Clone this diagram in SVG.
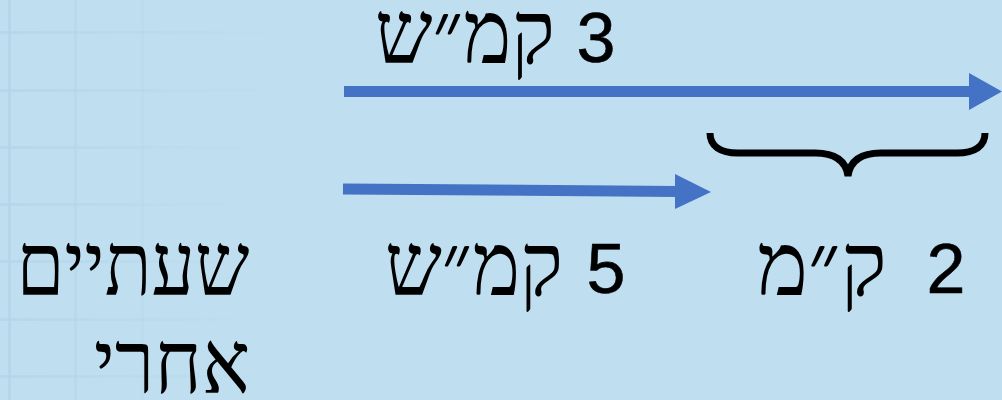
<svg xmlns="http://www.w3.org/2000/svg" width="1002" height="400" viewBox="0 0 1002 400">
  <defs>
    <style>
      .heb { font-family: "Liberation Serif", "DejaVu Serif", serif; font-size: 88px; fill: #000; direction: rtl; text-anchor: middle; }
      .num { font-family: "Liberation Sans", "DejaVu Sans", sans-serif; font-size: 70px; fill: #000; stroke: #000; stroke-width: 0.6; text-anchor: middle; }
      .arrow { stroke: #4472C4; stroke-width: 11; fill: none; }
      .head { fill: #4472C4; }
    </style>
    <linearGradient id="fadeH" x1="0" y1="0" x2="1" y2="0">
      <stop offset="0" stop-color="#A9CCE2" stop-opacity="0.7"/>
      <stop offset="1" stop-color="#A9CCE2" stop-opacity="0"/>
    </linearGradient>
  </defs>
  <rect x="0" y="0" width="1002" height="400" fill="#BFDFF1"/>
  <g id="grid" opacity="0.55">
    <rect x="0" y="31" width="290" height="3" fill="url(#fadeH)"/>
    <rect x="0" y="89" width="290" height="3" fill="url(#fadeH)"/>
    <rect x="0" y="146" width="270" height="3" fill="url(#fadeH)"/>
    <rect x="0" y="203" width="250" height="3" fill="url(#fadeH)"/>
    <rect x="0" y="260" width="250" height="3" fill="url(#fadeH)"/>
    <rect x="0" y="318" width="260" height="3" fill="url(#fadeH)"/>
    <rect x="0" y="375" width="260" height="3" fill="url(#fadeH)"/>
    <rect x="8" y="0" width="3" height="400" fill="#A9CCE2" opacity="0.7"/>
    <rect x="74" y="0" width="3" height="400" fill="#A9CCE2" opacity="0.5"/>
    <rect x="141" y="0" width="3" height="400" fill="#A9CCE2" opacity="0.3"/>
  </g>
  <g id="connectors">
    <g id="arrow-3kmh">
      <line class="arrow" x1="344" y1="91.5" x2="972" y2="91.5"/>
      <polygon class="head" points="969,73 1002,91.5 969,110"/>
    </g>
    <g id="arrow-5kmh">
      <line class="arrow" x1="343" y1="189" x2="678" y2="191.5"/>
      <polygon class="head" points="675,174 711,192 675,209"/>
    </g>
  </g>
  <g id="brace">
    <path d="M710,133 C710,146 720,153 738,153 L815,153 C835,153 846,161 848,176 C850,161 861,153 881,153 L957,153 C975,153 985,146 985,133" fill="none" stroke="#000" stroke-width="7"/>
  </g>
  <g id="label-3kmh">
    <text class="heb" x="465" y="63" textLength="180" lengthAdjust="spacingAndGlyphs">קמ״ש</text>
    <text class="num" x="596" y="62">3</text>
  </g>
  <g id="label-5kmh">
    <text class="heb" x="474" y="295" textLength="178" lengthAdjust="spacingAndGlyphs">קמ״ש</text>
    <text class="num" x="606" y="293">5</text>
  </g>
  <g id="label-2km">
    <text class="heb" x="822" y="295" textLength="130" lengthAdjust="spacingAndGlyphs">ק״מ</text>
    <text class="num" x="946" y="293">2</text>
  </g>
  <g id="label-hours">
    <text class="heb" x="133" y="295" textLength="233" lengthAdjust="spacingAndGlyphs">שעתיים</text>
    <text class="heb" x="172" y="393" textLength="156" lengthAdjust="spacingAndGlyphs">אחרי</text>
  </g>
</svg>
